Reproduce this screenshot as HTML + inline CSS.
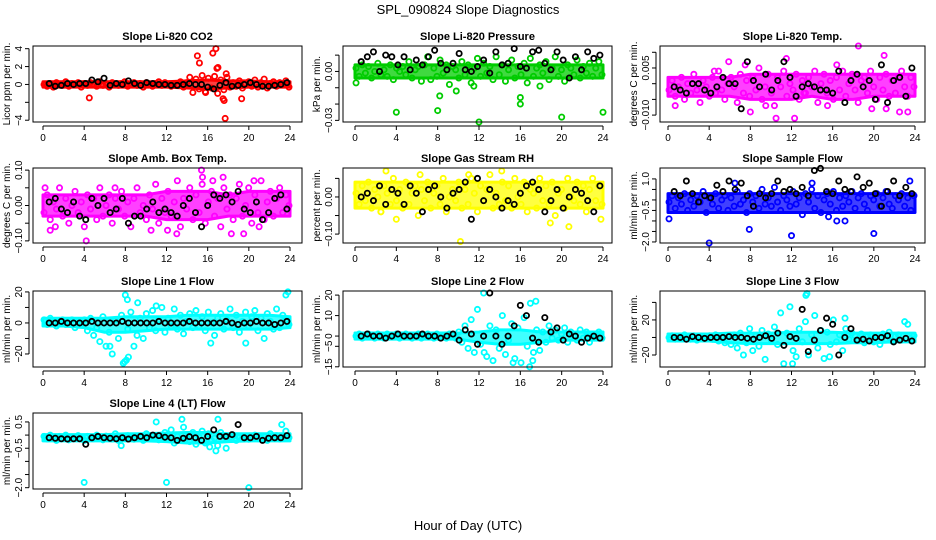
<!DOCTYPE html>
<html><head><meta charset="utf-8"><style>
body{margin:0;background:#fff}
svg{display:block;font-family:"Liberation Sans",sans-serif}
</style></head><body>
<svg id="chart" width="936" height="540" viewBox="0 0 936 540">
<text x="468" y="14" text-anchor="middle" font-size="13">SPL_090824  Slope Diagnostics</text>
<text x="468" y="530" text-anchor="middle" font-size="13">Hour of Day (UTC)</text>
</svg>
<script>
const xTicks=[0,4,8,12,16,20,24];
const bandHours=[0,2,4,6,8,10,12,14,16,18,20,22,24];
const co2Col=[0,-.2,.1,-.3,.2,0,-.1,.3,-.2,.1,0,.2,-.3,.1,-.1,.2,0,-.2,.3,-.1,.1,-.3,.2,0,-.1,.1,.3,-.2,0,.2,-.1,.1,-.3,.2,0,-.2,.1,.3,-.1,.2,0,-.2,.1,-.1,.3,-.3,.2,.8,-.9,.6,-.5,1,-.8,.7,-.4,.9,-1,.5,-.6,.8,-.3,.2,-.2,.4,-.4,.1,.3,-.2,.5,-.3,.2,.6,-.4,.1,.3,-.2,.2,0,.4,-.3];
const co2Out=[[4.5,-1.5],[15,3.2],[15.2,2.4],[16.5,3.5],[16.8,4.0],[17,1.9],[16.9,1.8],[17.5,-1.6],[17.6,-1.8],[17.7,-3.8],[19.3,-1.6],[17.8,1.2],[15.8,-.9]];
const co2Blk=[.1,-.2,-.1,.1,0,.1,.1,.5,.3,.7,-.1,.1,0,.4,.1,-.1,.2,.1,0,0,-.1,-.1,0,.1,0,0,-.3,-.5,-.1,.2,-.2,-.1,0,.2,0,-.2,-.2,-.1,0,.2];
const co2Lo=[-.3,-.3,-.3,-.3,-.3,-.3,-.3,-.4,-.5,-.4,-.3,-.3,-.3];
const co2Hi=[.3,.3,.3,.3,.3,.3,.3,.4,.5,.4,.4,.3,.3];
const presCol=[.002,-.003,.004,-.001,.003,-.004,0,.005,-.002,.001,-.003,.004,-.005,.002,0,.003,-.002,.006,-.004,.001,.003,-.006,.004,.009,-.005,.002,-.003,.007,-.001,.004,-.008,.003,.001,-.004,.006,-.002,.004,-.007,.002,.008,-.003,.005,-.001,.003,-.005,.009,-.002,.004,-.006,.001,.007,-.004,.003,-.002,.005,-.007,.008,-.003,.002,.004,-.001,.006,-.005,.002,.009,-.003,.001,-.006,.004,.002,-.002,.007,-.004,.003,-.001,.005,-.003,.002,.006,-.002];
const presOut=[[0.1,-.007],[4,-.025],[8,-.024],[8.2,-.015],[12,-.031],[16,-.02],[16,-.016],[20,-.028],[24,-.025],[9.8,-.012],[11.5,-.009],[17.9,-.009]];
const presBlk=[.006,.009,.012,0,.01,.009,.004,.009,.001,.007,.004,.009,.013,.005,.001,.005,.011,.001,0,.003,.007,-.001,.012,.004,.005,.014,.003,.002,.012,.013,.005,.001,.012,.007,-.004,.009,.001,.012,.008,.01];
const presLo=[-.004,-.004,-.004,-.004,-.004,-.004,-.004,-.004,-.004,-.004,-.004,-.004,-.004];
const presHi=[.004,.004,.004,.004,.004,.004,.004,.004,.004,.004,.004,.004,.004];
const tempCol=[-.002,.001,-.004,-.001,.002,-.005,0,-.003,.003,-.002,-.006,.001,-.001,-.004,.002,-.003,.004,-.002,-.005,0,.002,-.001,-.006,.003,-.003,.001,-.004,.002,-.002,.005,-.005,-.001,.003,-.003,-.007,.002,-.001,.004,-.004,0,-.002,.003,-.005,.001,-.003,.002,-.001,.004,-.006,0,.003,-.003,.001,-.005,.002,-.002,.004,-.004,0,.003,-.002,-.006,.001,.002,-.003,.004,-.001,-.005,.002,-.002,.003,-.004,.001,-.003,.002,.004,-.001,-.004,.002,-.001];
const tempOut=[[0.7,-.007],[4.5,.004],[5.9,.007],[7.5,.006],[8,-.009],[9.5,-.007],[10.5,-.011],[11.5,.008],[12.3,-.011],[15.5,-.007],[18.5,.012],[19.8,-.008],[21,.009],[21.2,-.008],[22.5,-.009],[23.3,-.009],[16.4,.006],[13.2,-.003]];
const tempBlk=[-.001,-.002,-.003,0,0,-.002,-.003,-.001,.002,0,0,-.008,.007,.001,-.001,.003,-.002,.001,.007,.002,-.004,-.001,0,-.001,-.002,-.002,-.003,.004,-.006,.001,.003,-.001,.001,-.005,.006,-.006,.001,.002,-.004,.005];
const tempLo=[-.004,-.004,-.004,-.004,-.005,-.005,-.005,-.004,-.005,-.005,-.004,-.004,-.004];
const tempHi=[.002,.002,.002,.002,.003,.003,.003,.003,.003,.003,.003,.003,.003];
const ambCol=[-.02,.03,-.04,.01,-.01,.05,-.03,.02,-.05,0,.04,-.02,.01,-.06,.03,-.01,.02,-.04,.05,-.03,0,.03,-.05,.02,-.01,.04,-.03,.01,-.06,.02,.05,-.02,0,-.04,.03,-.01,.06,-.05,.02,-.02,.04,-.03,.01,.07,-.06,.02,-.01,.05,-.04,.03,-.02,.06,-.05,.01,.04,-.03,.02,-.06,.05,-.01,.03,-.04,.02,.06,-.03,0,.05,-.05,.03,-.02,.07,-.04,.01,.04,-.03,.02,.05,-.02,.03,0];
const ambOut=[[0.2,.05],[0.7,-.07],[1.2,-.06],[4.2,-.1],[7,.05],[10.5,-.07],[12.1,-.07],[13,-.08],[15.4,.1],[15.5,.08],[16.5,.07],[17.5,.08],[18.3,-.08],[19.5,-.08],[20.5,.07],[21,-.06]];
const ambBlk=[.01,.02,-.01,-.02,.01,-.03,-.04,.02,0,.02,-.02,-.01,.02,-.05,-.03,-.03,-.01,.01,-.02,-.01,-.02,-.03,0,.02,-.02,-.06,0,.03,.02,.03,.01,.04,-.01,-.02,.01,-.04,-.02,.02,.03,-.01];
const ambLo=[-.03,-.03,-.03,-.03,-.03,-.03,-.04,-.04,-.04,-.03,-.03,-.03,-.03];
const ambHi=[.03,.03,.03,.03,.03,.03,.04,.04,.04,.03,.04,.04,.04];
const rhCol=[.01,-.02,.03,-.01,.04,-.03,.02,0,-.04,.03,.01,-.02,.05,-.01,.02,-.03,.04,-.02,.01,.03,-.05,.02,-.01,.04,-.03,.01,.03,-.02,.05,-.04,0,.02,-.01,.04,-.03,.02,-.02,.05,.01,-.04,.03,-.01,.02,.06,-.03,.01,-.02,.04,-.01,.03,-.03,.05,0,-.02,.04,-.04,.02,.01,-.03,.05,-.01,.03,-.02,.04,-.05,.01,.02,-.03,.05,0,-.01,.04,-.02,.03,-.04,.02,.05,-.01,.03,-.02];
const rhOut=[[3,.07],[2.5,-.04],[4,-.06],[6.3,.06],[10.2,-.12],[14.2,.07],[18.9,-.07],[20.7,-.08],[23.8,-.06],[11,.06]];
const rhBlk=[0,.01,-.01,.03,-.02,.02,.01,-.02,.03,.01,-.04,.02,.03,0,-.03,.01,.02,.04,-.06,.05,-.01,.02,0,-.03,-.01,-.02,.01,.03,.04,.02,-.04,-.01,.02,-.03,0,.02,.01,-.01,-.04,.03];
const rhLo=[-.03,-.03,-.03,-.03,-.03,-.03,-.03,-.03,-.03,-.03,-.03,-.03,-.03];
const rhHi=[.04,.04,.04,.04,.04,.04,.04,.04,.04,.04,.04,.04,.04];
const sfCol=[-.1,.2,-.4,.1,-.2,.3,-.5,0,-.3,.2,-.1,.4,-.6,.1,-.2,.3,-.4,0,.2,-.5,.1,-.3,.4,-.2,0,-.6,.3,-.1,.2,-.4,.5,-.2,.1,-.3,.6,-.1,-.5,.2,0,-.3,.4,-.2,.1,-.7,.3,-.1,.5,-.4,.2,-.6,0,.3,-.2,.4,-.5,.1,-.3,.2,-.1,.4,-.4,.1,.3,-.2,-.5,.2,0,.3,-.3,.1,.4,-.2,-.4,.2,0,.3,-.3,.1,-.5,.2];
const sfOut=[[0.1,-.9],[4,-2.05],[12,-1.7],[20,-1.6],[7.9,-1.4],[14,.8],[15.6,-.8],[16.4,-1.0],[17.2,-1.0],[6.5,.8],[23.5,.9]];
const sfBlk=[.4,.2,.9,.3,-.1,.2,.1,.7,.4,.9,.5,.8,.2,-.3,.3,.1,.3,.9,.4,.5,.3,.6,.2,1.4,1.5,.4,.3,.9,.5,.4,1.1,.6,.8,.3,-.3,.4,.9,.2,.6,.3];
const sfLo=[-.6,-.6,-.6,-.6,-.6,-.6,-.6,-.6,-.6,-.6,-.6,-.6,-.6];
const sfHi=[.3,.3,.3,.3,.3,.3,.3,.3,.3,.3,.3,.3,.3];
const l1Col=[2,-1,3,0,-2,1,2,-1,0,2,-3,1,0,2,-5,3,-8,-3,-12,4,-15,-6,-20,2,-10,5,-25,-4,7,-15,-8,3,-10,6,-3,8,-5,2,10,-6,3,-2,9,-4,5,-7,1,6,-3,8,-2,4,-5,7,0,-8,3,6,-4,2,9,-3,5,-6,1,7,-2,4,8,-5,3,-10,6,1,-4,9,-3,5,2,-1];
const l1Out=[[8,18],[8.2,15],[7.8,-26],[8.3,-22],[23.6,18],[23.8,20],[6.5,-15],[9.2,13],[11,11],[16.3,-13],[19.7,-13],[8.1,-24]];
const l1Blk=[0,0,1,0,0,0,0,1,0,0,0,0,1,0,0,0,0,0,1,0,0,0,0,1,0,0,0,0,0,1,0,-1,0,0,1,0,0,-1,0,1];
const l1Lo=[-2,-2,-3,-6,-6,-5,-4,-4,-4,-4,-4,-4,-3];
const l1Hi=[3,3,3,3,4,4,4,5,5,5,5,5,4];
const l2Col=[0,1,-1,0,1,0,-1,1,0,-1,1,0,0,1,-1,0,1,0,-1,0,1,-1,0,1,0,-1,1,0,0,-1,1,0,-1,2,-3,5,-6,8,-8,13,-4,21,-10,5,-12,3,-6,10,-9,-2,6,-11,4,-13,9,-5,16,-8,3,-7,2,-3,5,-1,3,-2,1,4,-3,2,0,-2,3,-1,2,-3,1,0,2,-1];
const l2Out=[[12.5,-8],[16.9,-15],[17.2,-12],[15.3,-13],[17.5,17]];
const l2Blk=[0,1,0,0,-1,0,1,0,0,0,1,0,0,-1,0,1,-2,3,1,-4,0,21,0,-4,0,5,15,10,-1,-3,9,2,4,-2,1,0,-3,-1,0,-1];
const l2Lo=[-1.5,-1.5,-1.5,-1.5,-1.5,-1.5,-3,-4,-4,-3,-2,-2,-2];
const l2Hi=[1.5,1.5,1.5,1.5,1.5,1.5,2,3,3,2,2,2,2];
const l3Col=[0,2,-2,1,-1,3,0,-2,2,-3,1,0,-1,2,-2,3,-4,1,-6,2,-8,3,-12,5,-20,-6,10,-15,2,-10,8,-25,4,-3,12,-8,28,-30,5,35,-15,-22,10,-5,18,-20,3,25,-12,8,-24,6,-8,20,-5,3,-15,10,-2,5,2,-3,4,-6,1,3,-5,2,-8,4,-2,6,-4,1,3,-3,18,15,-1,2];
const l3Out=[[13.5,50],[13.4,48],[12.1,-30],[15.7,-22],[17.2,22]];
const l3Blk=[0,0,-2,1,0,-1,0,0,0,1,0,0,-1,-2,0,2,-1,5,-9,1,-1,32,-16,-3,8,22,15,-20,0,10,-3,-2,-4,0,0,2,-5,-3,-1,-4];
const l3Lo=[-4,-4,-4,-6,-7,-7,-7,-7,-7,-6,-6,-5,-5];
const l3Hi=[4,4,4,5,5,5,6,6,6,5,5,5,5];
const l4Col=[-.05,-.15,0,-.1,-.2,-.05,-.12,0,-.18,-.08,-.1,-.02,-.15,-.2,-.05,-.1,-.14,0,-.08,-.18,-.04,-.1,-.15,.05,-.2,-.06,-.12,-.02,-.1,-.16,-.05,-.08,-.2,.05,-.12,-.04,-.1,-.18,-.06,.1,-.14,.2,-.3,-.05,-.2,.3,-.1,-.25,.1,-.35,-.08,.15,-.3,.05,-.2,-.12,-.4,.1,-.05,-.15,-.08,0,-.2,-.1,-.12,-.04,-.16,-.08,0,-.14,-.1,-.06,-.2,.05,-.12,-.02,-.15,-.08,.15,-.1];
const l4Out=[[4,-1.8],[12,-1.8],[20,-2.0],[13.5,.6],[17,.6],[16.8,-.6],[17.8,-.5],[16.2,-.45],[7.6,-.4],[11,.5],[23.2,.4]];
const l4Blk=[-.1,-.12,-.14,-.15,-.14,-.14,-.35,-.1,-.05,-.1,-.12,-.14,-.1,-.15,-.1,-.05,-.1,0,-.02,-.08,-.1,-.2,-.12,-.06,-.1,-.2,-.05,.2,-.05,-.05,.02,.4,-.1,-.1,-.05,-.2,-.12,-.1,-.1,-.02];
const l4Lo=[-.22,-.22,-.22,-.22,-.22,-.22,-.25,-.3,-.3,-.25,-.22,-.22,-.22];
const l4Hi=[.02,.02,.02,.02,.05,.05,.08,.1,.1,.05,.05,.05,.05];

const cols=[{l:33,r:302,x0:43,x1:290},{l:343,r:612,x0:355,x1:603},{l:660,r:925,x0:668,x1:915}];
const rows=[{t:46,b:122},{t:168,b:243},{t:291,b:367},{t:413,b:489}];
const panels=[
 {n:'co2',title:'Slope Li-820 CO2',yl:'Licor ppm per min.',c:'#ff0000',r:0,k:0,min:-4.2,max:4.3,ticks:[-4,-2,0,2,4],lab:['\u22124','','0','2','4'],col:co2Col,out:co2Out,blk:co2Blk,lo:co2Lo,hi:co2Hi},
 {n:'pressure',title:'Slope Li-820 Pressure',yl:'kPa per min.',c:'#00cc00',r:0,k:1,min:-.031,max:.0156,ticks:[-.03,-.02,-.01,0,.01],lab:['\u22120.03','','','0.00',''],col:presCol,out:presOut,blk:presBlk,lo:presLo,hi:presHi},
 {n:'temp',title:'Slope Li-820 Temp.',yl:'degrees C per min.',c:'#ff00ff',r:0,k:2,min:-.0122,max:.012,ticks:[-.01,-.005,0,.005,.01],lab:['\u22120.010','','','0.005',''],col:tempCol,out:tempOut,blk:tempBlk,lo:tempLo,hi:tempHi},
 {n:'amb-box',title:'Slope Amb. Box Temp.',yl:'degrees C per min.',c:'#ff00ff',r:1,k:0,min:-.106,max:.106,ticks:[-.1,-.05,0,.05,.1],lab:['\u22120.10','','0.00','','0.10'],col:ambCol,out:ambOut,blk:ambBlk,lo:ambLo,hi:ambHi},
 {n:'rh',title:'Slope Gas Stream RH',yl:'percent per min.',c:'#ffff00',r:1,k:1,min:-.124,max:.078,ticks:[-.1,-.05,0,.05],lab:['\u22120.10','','0.00',''],col:rhCol,out:rhOut,blk:rhBlk,lo:rhLo,hi:rhHi},
 {n:'sample-flow',title:'Slope Sample Flow',yl:'ml/min per min.',c:'#0000ff',r:1,k:2,min:-2.05,max:1.52,ticks:[-2,-1.5,-1,-.5,0,.5,1],lab:['\u22122.0','','','\u22120.5','','','1.0'],col:sfCol,out:sfOut,blk:sfBlk,lo:sfLo,hi:sfHi},
 {n:'line1',title:'Slope Line 1 Flow',yl:'ml/min per min.',c:'#00ffff',r:2,k:0,min:-28.4,max:20.6,ticks:[-20,-10,0,10,20],lab:['\u221220','','0','','20'],col:l1Col,out:l1Out,blk:l1Blk,lo:l1Lo,hi:l1Hi},
 {n:'line2',title:'Slope Line 2 Flow',yl:'ml/min per min.',c:'#00ffff',r:2,k:1,min:-15.1,max:22,ticks:[-15,-5,0,10,20],lab:['\u221215','\u22125','0','10','20'],col:l2Col,out:l2Out,blk:l2Blk,lo:l2Lo,hi:l2Hi},
 {n:'line3',title:'Slope Line 3 Flow',yl:'ml/min per min.',c:'#00ffff',r:2,k:2,min:-33.7,max:53,ticks:[-20,0,20,40],lab:['\u221220','','20',''],col:l3Col,out:l3Out,blk:l3Blk,lo:l3Lo,hi:l3Hi},
 {n:'line4',title:'Slope Line 4 (LT) Flow',yl:'ml/min per min.',c:'#00ffff',r:3,k:0,min:-2.05,max:.84,ticks:[-2,-1.5,-1,-.5,0,.5],lab:['\u22122.0','','','\u22120.5','','0.5'],col:l4Col,out:l4Out,blk:l4Blk,lo:l4Lo,hi:l4Hi}
];
const NS='http://www.w3.org/2000/svg';
const svg=document.getElementById('chart');
function mk(tag,at,parent){const e=document.createElementNS(NS,tag);for(const k in at)e.setAttribute(k,at[k]);(parent||svg).appendChild(e);return e;}
panels.forEach(p=>{
 const C=cols[p.k],R=rows[p.r];
 const xs=h=>C.x0+(C.x1-C.x0)*h/24;
 const ys=v=>R.b-(v-p.min)/(p.max-p.min)*(R.b-R.t);
 const g=mk('g',{});
 
 
 const t=mk('text',{x:(C.l+C.r)/2,y:R.t-6,'text-anchor':'middle','font-size':11,'font-weight':'bold'},g);
 t.textContent=p.title;
 
 
 const yt=mk('text',{transform:`translate(${C.l-23},${(R.t+R.b)/2}) rotate(-90)`,'text-anchor':'middle','font-size':10},g);
 yt.textContent=p.yl;
 
 
 // dense band of overlapping points
 let d='';
 bandHours.forEach((h,i)=>{d+=(i?'L':'M')+xs(h)+','+ys(p.hi[i]);});
 for(let i=bandHours.length-1;i>=0;i--)d+='L'+xs(bandHours[i])+','+ys(p.lo[i]);
 const band=mk('path',{d:d+'Z',fill:p.c,'fill-opacity':0.75,stroke:p.c,'stroke-width':3,'stroke-linejoin':'round'},g);
 
 
 const ptsG=mk('g',{fill:'none','stroke-width':1.8},g);
 
 
 const n=p.col.length;
 p.col.forEach((v,i)=>{const h=0.1+i*23.8/(n-1);const c=mk('circle',{cx:xs(h),cy:ys(v),r:2.6,stroke:p.c},ptsG);
  
  });
 p.out.forEach(q=>{const c=mk('circle',{cx:xs(q[0]),cy:ys(q[1]),r:2.6,stroke:p.c},ptsG);
  
  });
 const m=p.blk.length;
 p.blk.forEach((v,i)=>{const h=0.6+i*23.1/(m-1);const c=mk('circle',{cx:xs(h),cy:ys(v),r:2.6,stroke:'#000'},ptsG);
  
  });
 const bx=mk('rect',{x:C.l,y:R.t,width:C.r-C.l,height:R.b-R.t,fill:'none',stroke:'#000','stroke-width':1},g);
 
 
 mk('line',{x1:xs(0),x2:xs(24),y1:R.b+4,y2:R.b+4,stroke:'#000'},g);
 xTicks.forEach(h=>{mk('line',{x1:xs(h),x2:xs(h),y1:R.b+4,y2:R.b+8,stroke:'#000'},g);
  const tl=mk('text',{x:xs(h),y:R.b+19,'text-anchor':'middle','font-size':10},g);tl.textContent=h;
  
  });
 mk('line',{x1:C.l-4,x2:C.l-4,y1:ys(p.ticks[0]),y2:ys(p.ticks[p.ticks.length-1]),stroke:'#000'},g);
 p.ticks.forEach((v,i)=>{const y=ys(v);mk('line',{x1:C.l-8,x2:C.l-4,y1:y,y2:y,stroke:'#000'},g);
  if(p.lab[i]){const tl=mk('text',{transform:`translate(${C.l-11},${y}) rotate(-90)`,'text-anchor':'middle','font-size':10},g);tl.textContent=p.lab[i];
  
  }});
});
</script>
</body></html>
